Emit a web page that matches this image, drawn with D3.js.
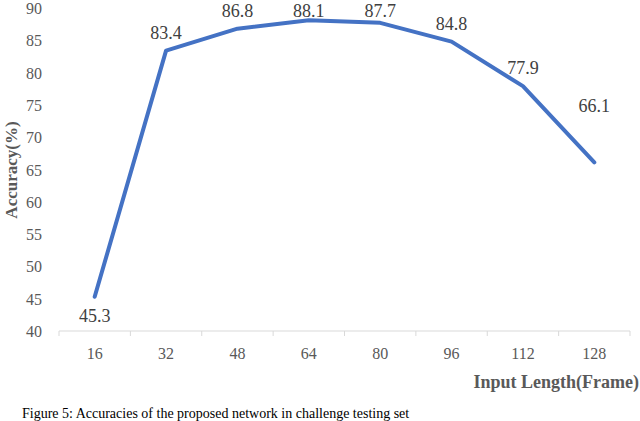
<!DOCTYPE html><html><head><meta charset="utf-8"><script src="https://cdn.jsdelivr.net/npm/d3@7"></script>
<style>body{margin:0;background:#fff}text{font-family:"Liberation Serif",serif}</style></head><body><svg width="640" height="421"></svg>
<script>
const categories=["16","32","48","64","80","96","112","128"];
const values=[45.3,83.4,86.8,88.1,87.7,84.8,77.9,66.1];
const yTicks=[40,45,50,55,60,65,70,75,80,85,90];
const svg=d3.select("svg");
const x=d3.scaleBand().domain(categories).range([59,630]);
const y=d3.scaleLinear().domain([40,90]).range([331,8]);
const g=svg.append("g");
g.append("line").attr("x1",59).attr("x2",630).attr("y1",y(40)).attr("y2",y(40)).attr("stroke","#d9d9d9");
const bounds=d3.range(9).map(i=>59+i*x.bandwidth());
g.selectAll(".tk").data(bounds).join("line").attr("x1",d=>d).attr("x2",d=>d).attr("y1",y(40)).attr("y2",y(40)+5).attr("stroke","#d9d9d9");
g.selectAll(".xl").data(categories).join("text").attr("x",d=>x(d)+x.bandwidth()/2).attr("y",359).attr("text-anchor","middle").attr("font-size",16).attr("fill","#595959").text(d=>d);
g.selectAll(".yl").data(yTicks).join("text").attr("x",42).attr("y",d=>y(d)+6).attr("text-anchor","end").attr("font-size",16).attr("fill","#595959").text(d=>d);
const line=d3.line().x((d,i)=>x(categories[i])+x.bandwidth()/2).y(d=>y(d));
g.append("path").datum(values).attr("d",line).attr("fill","none").attr("stroke","#4472C4").attr("stroke-width",4).attr("stroke-linejoin","round").attr("stroke-linecap","round");
g.selectAll(".dl").data(values).join("text").attr("x",(d,i)=>x(categories[i])+x.bandwidth()/2).attr("y",(d,i)=>i===0?y(d)+25:(i===7?y(d)-50:Math.max(y(d)-12,17))).attr("text-anchor","middle").attr("font-size",18).attr("fill","#404040").text(d=>d.toFixed(1));
svg.append("text").attr("transform","translate(17,170) rotate(-90)").attr("text-anchor","middle").attr("font-size",17).attr("font-weight","bold").attr("fill","#595959").text("Accuracy(%)");
svg.append("text").attr("x",639).attr("y",388).attr("text-anchor","end").attr("font-size",18).attr("font-weight","bold").attr("fill","#595959").text("Input Length(Frame)");
svg.append("text").attr("x",22).attr("y",418).attr("font-size",14).attr("fill","#000").text("Figure 5: Accuracies of the proposed network in challenge testing set");
</script></body></html>
